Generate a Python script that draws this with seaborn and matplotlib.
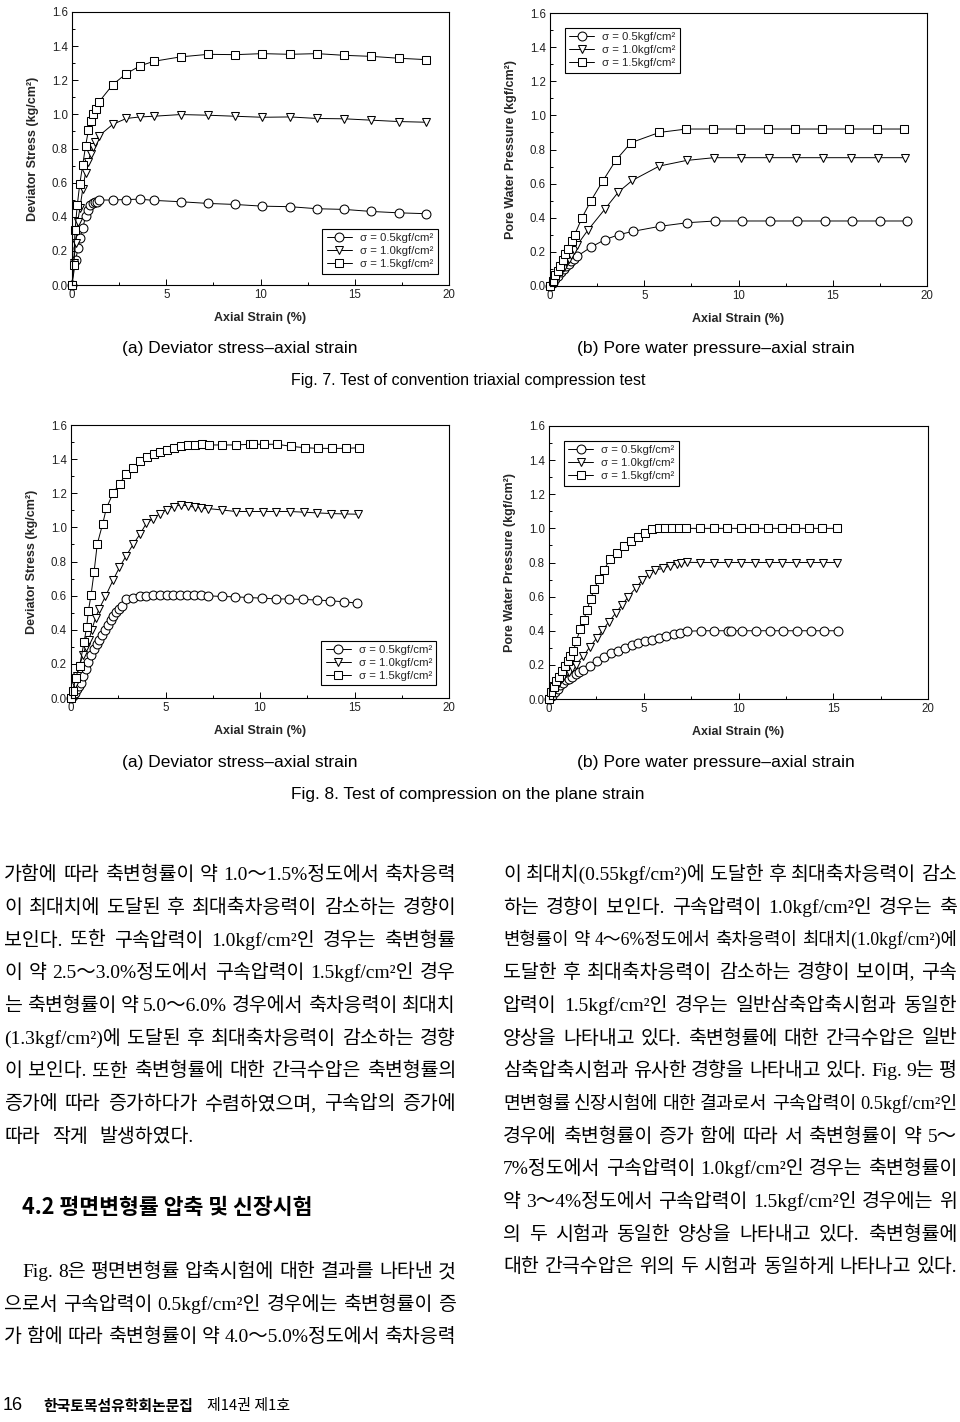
import matplotlib
matplotlib.use("Agg")
import matplotlib.pyplot as plt
from matplotlib.ticker import MultipleLocator, FormatStrFormatter
import seaborn as sns
import pandas as pd
import numpy as np

# ---------------- data (strain %, value) ----------------
# Fig. 7 (a) deviator stress, conventional triaxial
a_05 = [(0, 0), (0.19, 0.146), (0.32, 0.215), (0.42, 0.277), (0.58, 0.336), (0.72, 0.404),
        (0.87, 0.439), (0.97, 0.468), (1.11, 0.478), (1.24, 0.484), (1.34, 0.488), (1.43, 0.498),
        (2.17, 0.498), (2.88, 0.501), (3.61, 0.503), (4.33, 0.496), (5.76, 0.488), (7.23, 0.478),
        (8.66, 0.472), (10.1, 0.462), (11.57, 0.459), (13.0, 0.447), (14.45, 0.443), (15.88, 0.431),
        (17.33, 0.423), (18.76, 0.418)]
a_10 = [(0, 0), (0.09, 0.127), (0.19, 0.244), (0.30, 0.37), (0.42, 0.45), (0.57, 0.562),
        (0.72, 0.658), (0.85, 0.722), (0.99, 0.77), (1.11, 0.81), (1.24, 0.839), (1.41, 0.872),
        (2.17, 0.942), (2.88, 0.976), (3.61, 0.985), (4.33, 0.989), (5.76, 0.999), (7.23, 0.995),
        (8.66, 0.989), (10.1, 0.983), (11.57, 0.985), (13.0, 0.976), (14.45, 0.974), (15.88, 0.966),
        (17.33, 0.958), (18.76, 0.954)]
a_15 = [(0, 0), (0.09, 0.117), (0.16, 0.32), (0.28, 0.468), (0.41, 0.591), (0.57, 0.704),
        (0.72, 0.814), (0.87, 0.907), (1.01, 0.962), (1.13, 1.005), (1.29, 1.034), (1.43, 1.073),
        (2.17, 1.175), (2.88, 1.239), (3.61, 1.284), (4.33, 1.311), (5.76, 1.337), (7.23, 1.352),
        (8.66, 1.35), (10.1, 1.356), (11.57, 1.352), (13.0, 1.356), (14.45, 1.346), (15.88, 1.34),
        (17.33, 1.329), (18.76, 1.321)]

# Fig. 7 (b) pore water pressure, conventional triaxial
b_05 = [(0, 0), (0.14, 0.02), (0.28, 0.04), (0.42, 0.06), (0.57, 0.08), (0.72, 0.10), (0.87, 0.12),
        (1.0, 0.13), (1.14, 0.145), (1.28, 0.16), (1.45, 0.175), (2.19, 0.229), (2.92, 0.272),
        (3.66, 0.301), (4.39, 0.32), (5.84, 0.35), (7.29, 0.371), (8.75, 0.381), (10.2, 0.381),
        (11.67, 0.381), (13.12, 0.381), (14.57, 0.381), (16.02, 0.381), (17.49, 0.381), (18.94, 0.381)]
b_10 = [(0, 0), (0.14, 0.03), (0.28, 0.05), (0.42, 0.07), (0.57, 0.09), (0.72, 0.11), (0.87, 0.14),
        (1.0, 0.16), (1.14, 0.18), (1.28, 0.21), (1.43, 0.238), (2.0, 0.326), (2.9, 0.449),
        (3.63, 0.551), (4.37, 0.619), (5.8, 0.703), (7.25, 0.736), (8.7, 0.752), (10.15, 0.752),
        (11.6, 0.752), (13.05, 0.752), (14.5, 0.752), (15.95, 0.752), (17.4, 0.752), (18.85, 0.752)]
b_15 = [(0, 0), (0.14, 0.03), (0.28, 0.062), (0.42, 0.09), (0.55, 0.12), (0.69, 0.154), (0.82, 0.185),
        (0.95, 0.219), (1.15, 0.264), (1.31, 0.301), (1.7, 0.40), (2.16, 0.498), (2.81, 0.617),
        (3.5, 0.738), (4.3, 0.84), (5.8, 0.90), (7.23, 0.92), (8.66, 0.92), (10.1, 0.92),
        (11.55, 0.92), (13.0, 0.92), (14.43, 0.92), (15.88, 0.92), (17.33, 0.92), (18.78, 0.92)]

# Fig. 8 (a) deviator stress, plane strain compression
c_05 = [(0, 0), (0.1, 0.01), (0.2, 0.03), (0.32, 0.05), (0.42, 0.07), (0.53, 0.09), (0.65, 0.13),
        (0.78, 0.172), (0.92, 0.211), (1.08, 0.254), (1.2, 0.287), (1.36, 0.318), (1.48, 0.341),
        (1.64, 0.371), (1.8, 0.396), (1.96, 0.425), (2.1, 0.46), (2.24, 0.482), (2.4, 0.503),
        (2.54, 0.521), (2.68, 0.539), (2.93, 0.58), (3.3, 0.589), (3.63, 0.595), (3.99, 0.599),
        (4.36, 0.601), (4.71, 0.605), (5.06, 0.605), (5.41, 0.605), (5.77, 0.605), (6.12, 0.605),
        (6.49, 0.605), (6.88, 0.605), (7.25, 0.599), (7.97, 0.595), (8.68, 0.593), (9.38, 0.589),
        (10.1, 0.585), (10.83, 0.581), (11.55, 0.58), (12.26, 0.578), (13.0, 0.574), (13.72, 0.57),
        (14.43, 0.564), (15.15, 0.556)]
c_10 = [(0, 0), (0.1, 0.03), (0.2, 0.08), (0.3, 0.13), (0.45, 0.19), (0.62, 0.25), (0.78, 0.3),
        (0.95, 0.34), (1.1, 0.4), (1.3, 0.47), (1.48, 0.52), (1.82, 0.595), (2.22, 0.689),
        (2.56, 0.765), (2.93, 0.835), (3.3, 0.903), (3.65, 0.96), (3.99, 1.024), (4.36, 1.052),
        (4.71, 1.081), (5.06, 1.104), (5.43, 1.122), (5.8, 1.132), (6.19, 1.126), (6.54, 1.118),
        (6.9, 1.114), (7.27, 1.11), (7.99, 1.102), (8.71, 1.093), (9.44, 1.093), (10.16, 1.093),
        (10.86, 1.093), (11.59, 1.093), (12.31, 1.089), (13.02, 1.085), (13.74, 1.081),
        (14.46, 1.079), (15.17, 1.077)]
c_15 = [(0, 0), (0.1, 0.04), (0.25, 0.12), (0.46, 0.19), (0.69, 0.328), (0.83, 0.416), (0.92, 0.511),
        (1.06, 0.603), (1.22, 0.738), (1.39, 0.903), (1.68, 1.022), (1.87, 1.112), (2.24, 1.204),
        (2.57, 1.255), (2.93, 1.315), (3.3, 1.346), (3.65, 1.389), (4.0, 1.411), (4.37, 1.432),
        (4.73, 1.444), (5.1, 1.456), (5.47, 1.466), (5.84, 1.477), (6.21, 1.483), (6.58, 1.485),
        (6.91, 1.487), (7.28, 1.483), (8.0, 1.483), (8.73, 1.483), (9.45, 1.487), (9.63, 1.487),
        (10.19, 1.487), (10.92, 1.487), (11.64, 1.475), (12.36, 1.467), (13.09, 1.463),
        (13.81, 1.463), (14.53, 1.463), (15.26, 1.467)]

# Fig. 8 (b) pore water pressure, plane strain compression
d_05 = [(0, 0), (0.14, 0.02), (0.3, 0.04), (0.45, 0.06), (0.6, 0.08), (0.75, 0.095), (0.9, 0.11),
        (1.05, 0.12), (1.2, 0.13), (1.4, 0.145), (1.6, 0.158), (1.81, 0.17), (2.15, 0.193),
        (2.54, 0.221), (2.89, 0.246), (3.28, 0.27), (3.63, 0.283), (4.0, 0.301), (4.37, 0.318),
        (4.72, 0.328), (5.09, 0.34), (5.46, 0.348), (5.83, 0.359), (6.2, 0.369), (6.57, 0.379),
        (6.93, 0.389), (7.3, 0.397), (8.0, 0.4), (8.73, 0.4), (9.45, 0.4), (9.63, 0.4), (10.19, 0.4),
        (10.92, 0.4), (11.64, 0.4), (12.36, 0.4), (13.09, 0.4), (13.81, 0.4), (14.53, 0.4), (15.26, 0.4)]
d_10 = [(0, 0), (0.14, 0.03), (0.3, 0.06), (0.45, 0.09), (0.6, 0.11), (0.75, 0.13), (0.9, 0.15),
        (1.05, 0.16), (1.2, 0.18), (1.4, 0.2), (1.81, 0.25), (2.15, 0.305), (2.52, 0.357),
        (2.82, 0.402), (3.15, 0.451), (3.51, 0.502), (3.84, 0.549), (4.19, 0.6), (4.58, 0.65),
        (4.93, 0.697), (5.29, 0.731), (5.62, 0.756), (6.03, 0.766), (6.4, 0.781), (6.77, 0.793),
        (6.95, 0.797), (7.26, 0.801), (7.98, 0.8), (8.71, 0.8), (9.43, 0.8), (10.15, 0.8),
        (10.87, 0.8), (11.6, 0.8), (12.32, 0.8), (13.04, 0.8), (13.76, 0.8), (14.48, 0.8), (15.2, 0.8)]
d_15 = [(0, 0), (0.12, 0.04), (0.26, 0.07), (0.39, 0.105), (0.53, 0.13), (0.68, 0.165), (0.83, 0.193),
        (0.98, 0.222), (1.13, 0.252), (1.29, 0.28), (1.43, 0.338), (1.66, 0.412), (1.83, 0.463),
        (2.01, 0.524), (2.19, 0.584), (2.38, 0.643), (2.63, 0.703), (2.89, 0.756), (3.24, 0.822),
        (3.59, 0.858), (3.95, 0.895), (4.32, 0.926), (4.69, 0.951), (5.04, 0.975), (5.41, 0.994),
        (5.78, 1.0), (6.13, 1.0), (6.5, 1.0), (6.85, 1.0), (7.24, 1.0), (7.96, 1.0), (8.69, 1.0),
        (9.39, 1.0), (10.11, 1.0), (10.84, 1.0), (11.56, 1.0), (12.28, 1.0), (13.0, 1.0),
        (13.73, 1.0), (14.43, 1.0), (15.19, 1.0)]

series_labels = ["σ = 0.5kgf/cm²", "σ = 1.0kgf/cm²", "σ = 1.5kgf/cm²"]
series_markers = ["o", "v", "s"]
x_ticks = [0, 5, 10, 15, 20]
y_ticks = [0.0, 0.2, 0.4, 0.6, 0.8, 1.0, 1.2, 1.4, 1.6]
x_label = "Axial Strain (%)"
y_label_dev = "Deviator Stress (kg/cm²)"
y_label_pwp = "Pore Water Pressure (kgf/cm²)"

caption_a = "(a) Deviator stress–axial strain"
caption_b = "(b) Pore water pressure–axial strain"
fig7_title = "Fig. 7. Test of convention triaxial compression test"
fig8_title = "Fig. 8. Test of compression on the plane strain"

left_par1 = [
    "가함에 따라 축변형률이 약 1.0～1.5%정도에서 축차응력",
    "이 최대치에 도달된 후 최대축차응력이 감소하는 경향이",
    "보인다. 또한 구속압력이 1.0kgf/cm²인 경우는 축변형률",
    "이 약 2.5～3.0%정도에서 구속압력이 1.5kgf/cm²인 경우",
    "는 축변형률이 약 5.0～6.0% 경우에서 축차응력이 최대치",
    "(1.3kgf/cm²)에 도달된 후 최대축차응력이 감소하는 경향",
    "이 보인다. 또한 축변형률에 대한 간극수압은 축변형률의",
    "증가에 따라 증가하다가 수렴하였으며, 구속압의 증가에",
    "따라 작게 발생하였다.",
]
heading = "4.2 평면변형률 압축 및 신장시험"
left_par2 = [
    "Fig. 8은 평면변형률 압축시험에 대한 결과를 나타낸 것",
    "으로서 구속압력이 0.5kgf/cm²인 경우에는 축변형률이 증",
    "가 함에 따라 축변형률이 약 4.0～5.0%정도에서 축차응력",
]
right_par = [
    "이 최대치(0.55kgf/cm²)에 도달한 후 최대축차응력이 감소",
    "하는 경향이 보인다. 구속압력이 1.0kgf/cm²인 경우는 축",
    "변형률이 약 4～6%정도에서 축차응력이 최대치(1.0kgf/cm²)에",
    "도달한 후 최대축차응력이 감소하는 경향이 보이며, 구속",
    "압력이 1.5kgf/cm²인 경우는 일반삼축압축시험과 동일한",
    "양상을 나타내고 있다. 축변형률에 대한 간극수압은 일반",
    "삼축압축시험과 유사한 경향을 나타내고 있다. Fig. 9는 평",
    "면변형률 신장시험에 대한 결과로서 구속압력이 0.5kgf/cm²인",
    "경우에 축변형률이 증가 함에 따라 서 축변형률이 약 5～",
    "7%정도에서 구속압력이 1.0kgf/cm²인 경우는 축변형률이",
    "약 3～4%정도에서 구속압력이 1.5kgf/cm²인 경우에는 위",
    "의 두 시험과 동일한 양상을 나타내고 있다. 축변형률에",
    "대한 간극수압은 위의 두 시험과 동일하게 나타나고 있다.",
]
footer_page = "16"
footer_journal = "한국토목섬유학회논문집"
footer_issue = "제14권 제1호"

# ---------------- figure ----------------
CHART_FONT = ["Liberation Sans", "DejaVu Sans"]
BODY_FONT = ["Liberation Serif", "Noto Sans CJK KR"]
GOTHIC_FONT = ["Liberation Sans Narrow", "Liberation Sans", "Noto Sans CJK KR"]
KR_FONT = ["Noto Sans CJK KR", "DejaVu Sans"]

sns.set_style("white")
plt.rcParams["font.family"] = CHART_FONT

W, H = 960, 1422
fig = plt.figure(figsize=(W / 100, H / 100), dpi=100)
fig.patch.set_facecolor("white")
renderer = fig.canvas.get_renderer()


def px(x, y):
    return x / W, 1 - y / H


def add_axes(x0, y0, x1, y1):
    return fig.add_axes([x0 / W, 1 - y1 / H, (x1 - x0) / W, (y1 - y0) / H])


def draw_panel(ax, data_list, ylabel, loc, pad):
    for pts, mk, lab in zip(data_list, series_markers, series_labels):
        df = pd.DataFrame(pts, columns=["strain", "value"])
        sns.lineplot(data=df, x="strain", y="value", ax=ax, sort=False, estimator=None,
                     color="black", linewidth=0.7, marker=mk, markersize=6.4,
                     markerfacecolor="white", markeredgecolor="black", markeredgewidth=0.75,
                     label=lab, clip_on=False)
    ax.set_xlim(0, 20)
    ax.set_ylim(0, 1.6)
    ax.set_xticks(x_ticks)
    ax.set_yticks(y_ticks)
    ax.xaxis.set_major_formatter(FormatStrFormatter("%d"))
    ax.yaxis.set_major_formatter(FormatStrFormatter("%.1f"))
    ax.xaxis.set_minor_locator(MultipleLocator(2.5))
    ax.yaxis.set_minor_locator(MultipleLocator(0.1))
    ax.tick_params(which="both", direction="in", top=False, right=False,
                   bottom=True, left=True, width=0.7, colors="black")
    ax.tick_params(which="major", length=4.5, labelsize=8.3, pad=3, labelcolor="#222222")
    ax.tick_params(which="minor", length=2.5)
    for sp in ax.spines.values():
        sp.set_linewidth(0.8)
        sp.set_color("black")
    ax.set_xlabel(x_label, fontsize=9, fontweight="bold")
    ax.set_ylabel(ylabel, fontsize=9, fontweight="bold")
    ax.xaxis.set_label_coords(0.5, -0.098)
    ax.yaxis.set_label_coords(-0.088, 0.5)
    leg = ax.legend(loc=loc, frameon=True, fancybox=False, edgecolor="black", framealpha=1,
                    fontsize=8.2, handlelength=2.2, handletextpad=0.7, labelspacing=0.25,
                    borderpad=0.4, borderaxespad=pad)
    leg.get_frame().set_linewidth(0.8)


ax1 = add_axes(72, 12, 449, 285)
draw_panel(ax1, [a_05, a_10, a_15], y_label_dev, "lower right", 1.0)
ax2 = add_axes(550, 13, 927, 286)
draw_panel(ax2, [b_05, b_10, b_15], y_label_pwp, "upper left", 1.3)
ax3 = add_axes(71, 425, 449, 698)
draw_panel(ax3, [c_05, c_10, c_15], y_label_dev, "lower right", 1.1)
ax4 = add_axes(549, 426, 928, 699)
draw_panel(ax4, [d_05, d_10, d_15], y_label_pwp, "upper left", 1.3)


# ---------------- text helpers ----------------
def measure(t):
    return t.get_window_extent(renderer=renderer).width


def fit_text(s, x, yc, target_w, family, size0, weight="normal", ha="left"):
    t = fig.text(*px(x, yc), s, fontsize=size0, family=family, fontweight=weight,
                 va="center", ha=ha, color="black")
    w = measure(t)
    t.set_fontsize(size0 * target_w / w)
    return t


def justify_line(s, x0, x1, yc, size, family, full=True, gap_nat=9):
    words = s.split()
    yb = yc + 7
    while True:
        ts = [fig.text(0, 0, w, fontsize=size, family=family, va="baseline", color="black")
              for w in words]
        ws = [measure(t) for t in ts]
        if full and len(words) > 1:
            gap = (x1 - x0 - sum(ws)) / (len(words) - 1)
        else:
            gap = gap_nat
        if gap >= 3 or not full:
            break
        for t in ts:
            t.remove()
        size *= 0.97
    x = x0
    for t, w in zip(ts, ws):
        t.set_position(px(x, yb))
        x += w + gap


# captions
for yc_sub, yc_fig, title in [(348, 381, fig7_title), (762, 795, fig8_title)]:
    fit_text(caption_a, 122, yc_sub, 235, GOTHIC_FONT, 13)
    fit_text(caption_b, 577, yc_sub, 277, GOTHIC_FONT, 13)
    fit_text(title, 468, yc_fig, 352, GOTHIC_FONT, 13, ha="center")

# body text
BODY_SIZE = 14
LH = 32.75
for i, line in enumerate(left_par1):
    justify_line(line, 4, 456, 873 + i * LH, BODY_SIZE, BODY_FONT,
                 full=(i < len(left_par1) - 1), gap_nat=12)

fit_text(heading, 22, 1208, 290, KR_FONT, 14, weight="bold")

for i, line in enumerate(left_par2):
    x0 = 22 if i == 0 else 4
    justify_line(line, x0, 456, 1270 + i * 32.5, BODY_SIZE, BODY_FONT)

for i, line in enumerate(right_par):
    justify_line(line, 503, 957, 873 + i * 32.7, BODY_SIZE, BODY_FONT)

# footer
fit_text(footer_page, 3, 1406, 20, ["Liberation Sans", "DejaVu Sans"], 11)
fit_text(footer_journal, 43, 1406, 150, KR_FONT, 10, weight="bold")
fit_text(footer_issue, 207, 1406, 83, KR_FONT, 10)

fig.savefig("out.png", dpi=100, facecolor="white")
